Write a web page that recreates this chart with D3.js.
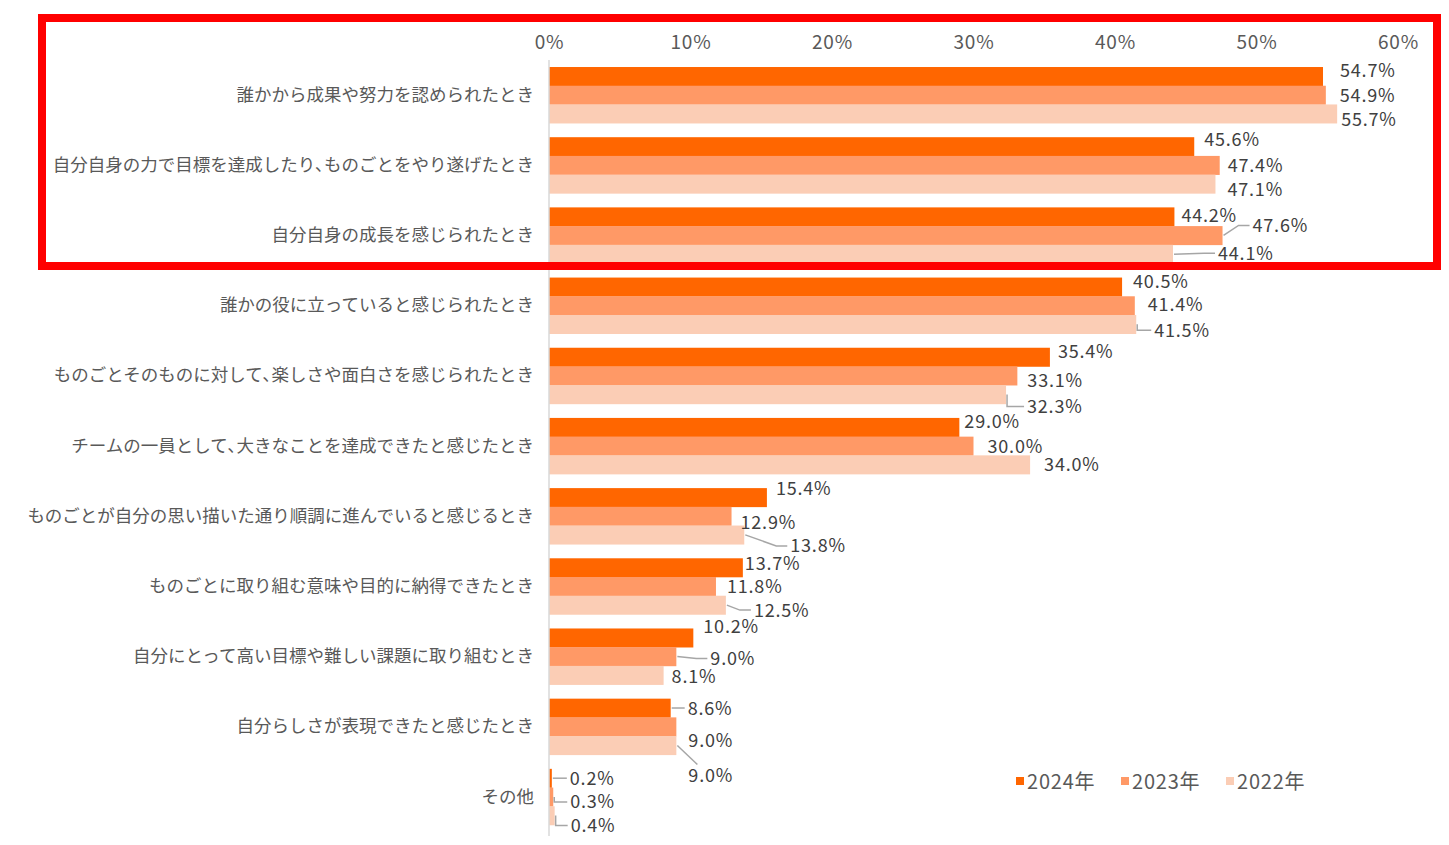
<!DOCTYPE html>
<html>
<head>
<meta charset="utf-8">
<script src="https://cdn.jsdelivr.net/npm/d3@7"></script>
<style>
  body { margin: 0; background: #fff; }
  text { font-family: "Noto Sans CJK JP", "Noto Sans", sans-serif; }
</style>
</head>
<body>
<div id="chart"></div>
<script>
var categories = [
  "誰かから成果や努力を認められたとき",
  "自分自身の力で目標を達成したり、ものごとをやり遂げたとき",
  "自分自身の成長を感じられたとき",
  "誰かの役に立っていると感じられたとき",
  "ものごとそのものに対して、楽しさや面白さを感じられたとき",
  "チームの一員として、大きなことを達成できたと感じたとき",
  "ものごとが自分の思い描いた通り順調に進んでいると感じるとき",
  "ものごとに取り組む意味や目的に納得できたとき",
  "自分にとって高い目標や難しい課題に取り組むとき",
  "自分らしさが表現できたと感じたとき",
  "その他"
];
var seriesNames = ["2024年", "2023年", "2022年"];
var values2024 = [54.7, 45.6, 44.2, 40.5, 35.4, 29.0, 15.4, 13.7, 10.2, 8.6, 0.2];
var values2023 = [54.9, 47.4, 47.6, 41.4, 33.1, 30.0, 12.9, 11.8, 9.0, 9.0, 0.3];
var values2022 = [55.7, 47.1, 44.1, 41.5, 32.3, 34.0, 13.8, 12.5, 8.1, 9.0, 0.4];
var tickValues = [0, 10, 20, 30, 40, 50, 60];
var colors = ["#FF6600", "#FF9966", "#FBCDB5"];

// label nudges (px) from bar end / bar middle, and leader style, like the hand-moved excel labels
var labelNudge = [
  [[17,-6,""],[14,0,""],[4,6,""]],
  [[10,-7,""],[8,0,""],[12,6,""]],
  [[7,-1,""],[30,-10,"d"],[45,-1,"d"]],
  [[11,-5,""],[13,-1,""],[18,6,"L"]],
  [[8,-6,""],[10,5,""],[21,12,"L"]],
  [[5,-6,""],[14,0,""],[14,0,""]],
  [[9,-9,""],[9,6,""],[46,11,"d"]],
  [[2,-4,""],[11,0,""],[28,5,"d"]],
  [[10,-11,""],[34,2,"d"],[8,1,""]],
  [[17,0,"d"],[12,14,""],[12,30,"t"]],
  [[18,0,"d"],[17,5,"L"],[16,10,"L"]]
];

var W = 1449, H = 845;
var svg = d3.select("#chart").append("svg")
    .attr("width", W)
    .attr("height", H);

var x = d3.scaleLinear()
    .domain([0, 60])
    .range([549, 549 + 60 * 14.15]);
var y = d3.scaleBand()
    .domain(categories)
    .range([60, 832])
    .paddingInner(0.2)
    .paddingOuter(0.1);
var ySub = d3.scaleBand()
    .domain(seriesNames)
    .range([0, y.bandwidth()]);

var data = [];
categories.forEach(function(c, i) {
  [values2024, values2023, values2022].forEach(function(arr, k) {
    data.push({cat: c, i: i, k: k, series: seriesNames[k], v: arr[i]});
  });
});

// top axis
var xAxis = d3.axisTop(x)
    .tickValues(tickValues)
    .tickFormat(function(d) { return d + "%"; })
    .tickSize(0)
    .tickPadding(0);
var gx = svg.append("g")
    .attr("transform", "translate(0,49)")
    .call(xAxis);
gx.select(".domain").remove();
gx.selectAll("text")
    .attr("fill", "#595959")
    .style("font-size", "19px")
    .style("letter-spacing", "0.8px");

// bars
svg.selectAll(".bar")
    .data(data)
  .enter().append("rect")
    .attr("class", "bar")
    .attr("x", x(0))
    .attr("y", function(d) { return y(d.cat) + ySub(d.series); })
    .attr("width", function(d) { return x(d.v) - x(0); })
    .attr("height", ySub.bandwidth() + 0.3)
    .attr("fill", function(d) { return colors[d.k]; });

// vertical axis line
svg.append("line")
    .attr("x1", x(0)).attr("x2", x(0))
    .attr("y1", 60).attr("y2", 836)
    .attr("stroke", "#D9D9D9")
    .attr("stroke-width", 1.5);

// category labels
var yAxis = d3.axisLeft(y).tickSize(0).tickPadding(15);
var gy = svg.append("g")
    .attr("transform", "translate(" + x(0) + ",0)")
    .call(yAxis);
gy.select(".domain").remove();
gy.selectAll("text")
    .attr("fill", "#595959")
    .style("font-size", "17.5px")
    .text(function(d) { return d.replace("、", "､"); });

// data labels + leader lines
data.forEach(function(d) {
  var n = labelNudge[d.i][d.k];
  var x0 = x(d.v), y0 = y(d.cat) + ySub(d.series) + ySub.bandwidth() / 2;
  var lx = x0 + n[0], ly = y0 + n[1];
  var pts = null;
  if (n[2] == "d") pts = [[x0 + 1, y0], [Math.max(x0 + 1, lx - 14), ly], [lx - 3, ly]];
  if (n[2] == "L") pts = [[x0 + 1, y0], [x0 + 1, ly], [lx - 3, ly]];
  if (n[2] == "t") pts = [[x0 + 1, y0], [lx + 9, ly - 11]];
  if (pts) {
    svg.append("path")
      .attr("d", d3.line()(pts))
      .attr("fill", "none")
      .attr("stroke", "#A6A6A6")
      .attr("stroke-width", 1.5);
  }
  svg.append("text")
    .attr("x", lx)
    .attr("y", ly - 1.5)
    .attr("dominant-baseline", "central")
    .attr("fill", "#404040")
    .style("font-size", "18px")
    .style("letter-spacing", "0.8px")
    .text(d.v.toFixed(1) + "%");
});

// legend
var legend = svg.selectAll(".legend")
    .data(seriesNames)
  .enter().append("g")
    .attr("class", "legend")
    .attr("transform", function(d, i) { return "translate(" + (1016 + i * 105) + ",781)"; });
legend.append("rect")
    .attr("x", 0).attr("y", -4)
    .attr("width", 8).attr("height", 8)
    .attr("fill", function(d, i) { return colors[i]; });
legend.append("text")
    .attr("x", 11)
    .attr("y", -1)
    .attr("dominant-baseline", "central")
    .attr("fill", "#595959")
    .style("font-size", "20px")
    .style("letter-spacing", "0.8px")
    .text(function(d) { return d; });

// red highlight box round the top three items
svg.append("rect")
    .attr("x", 42).attr("y", 18)
    .attr("width", 1395).attr("height", 248)
    .attr("fill", "none")
    .attr("stroke", "#FF0000")
    .attr("stroke-width", 8);
</script>
</body>
</html>
